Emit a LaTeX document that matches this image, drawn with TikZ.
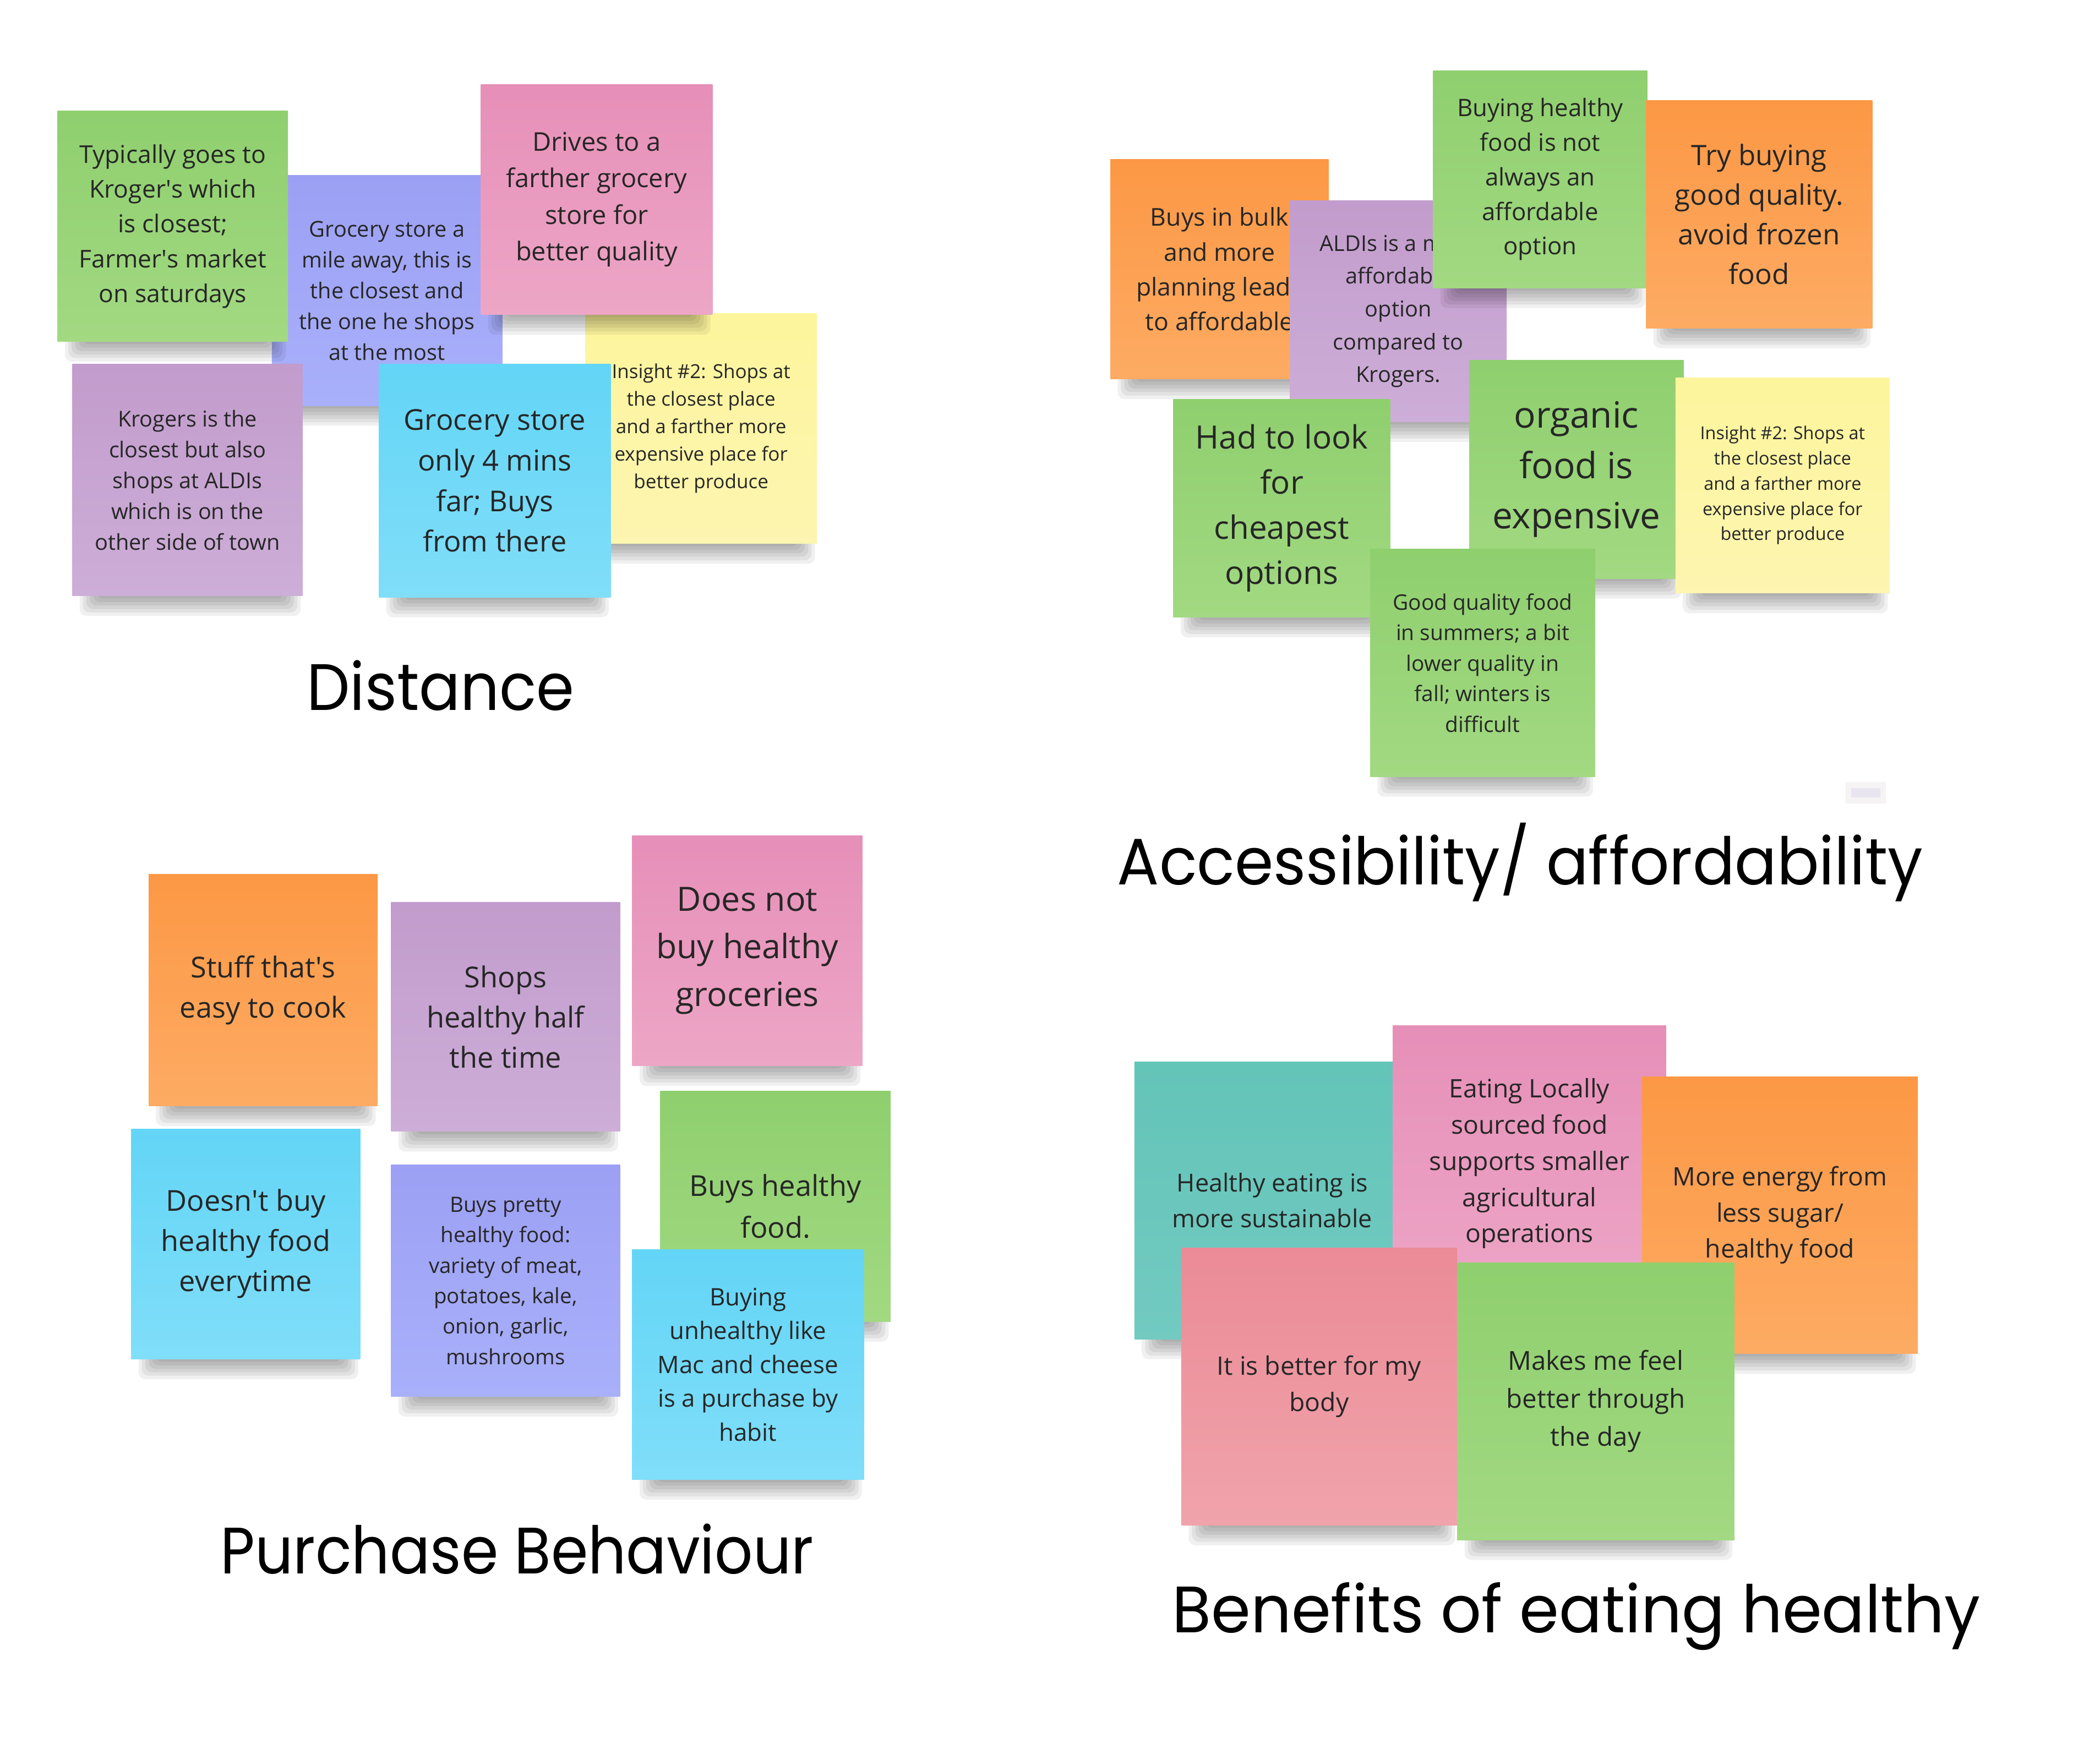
\documentclass[tikz,border=0pt]{standalone}
\usepackage{fontspec}
\usepackage{graphicx}
\setmainfont{Open Sans}
\newfontfamily\titlefont{Poppins}

\definecolor{grA}{HTML}{8FCF6E}\definecolor{grB}{HTML}{A2D982}
\definecolor{blA}{HTML}{9CA0F4}\definecolor{blB}{HTML}{A9B0FA}
\definecolor{pkA}{HTML}{E68FB8}\definecolor{pkB}{HTML}{EDA6C6}
\definecolor{puA}{HTML}{C29CCC}\definecolor{puB}{HTML}{CDAED8}
\definecolor{cyA}{HTML}{63D5F6}\definecolor{cyB}{HTML}{80DEF9}
\definecolor{yeA}{HTML}{FDF59C}\definecolor{yeB}{HTML}{FDF5B0}
\definecolor{orA}{HTML}{FC9845}\definecolor{orB}{HTML}{FDAB63}
\definecolor{tlA}{HTML}{63C4B8}\definecolor{tlB}{HTML}{72CAC1}
\definecolor{saA}{HTML}{EB8B97}\definecolor{saB}{HTML}{F0A3AB}
\definecolor{inktext}{HTML}{262626}
\definecolor{markout}{HTML}{F5F3F4}\definecolor{markin}{HTML}{E9E5F0}

\newcommand\fs[2]{\fontsize{#1}{#2}\selectfont}
\newcommand\ap{\textquotesingle}

\tikzset{
  note/.style={inner sep=0pt, outer sep=0pt, align=center, text=inktext},
  nGreen/.style={top color=grA, bottom color=grB},
  nBlue/.style={top color=blA, bottom color=blB},
  nPink/.style={top color=pkA, bottom color=pkB},
  nPurple/.style={top color=puA, bottom color=puB},
  nCyan/.style={top color=cyA, bottom color=cyB},
  nYellow/.style={top color=yeA, bottom color=yeB},
  nOrange/.style={top color=orA, bottom color=orB},
  nTeal/.style={top color=tlA, bottom color=tlB},
  nSalmon/.style={top color=saA, bottom color=saB},
  notesh/.style={fill=black, opacity=0.06, rounded corners=5pt},
  heading/.style={font=\titlefont\fs{49}{60}, inner sep=0pt, text=black},
}

% #1 name, #2 left, #3 top, #4 width, #5 height, #6 options, #7 text
\newcommand\sticky[7]{%
  \foreach \i in {0,...,5}{%
    \fill[notesh] ({#2+18-2.5*\i},{#3+#5-12}) rectangle ({#2+#4-14+2.5*\i},{#3+#5+2+2.6*\i});
  }%
  \node[note, minimum width=#4pt, minimum height=#5pt, #6] (#1) at ({#2+#4/2},{#3+#5/2}) {#7};%
}

\begin{document}
\begin{tikzpicture}[x=1pt,y=-1pt]
\useasboundingbox[fill=white] (0,0) rectangle (1568,1314);

% ---------------- Distance ----------------
\sticky{b1}{203}{131}{172}{172}{nBlue, font=\fs{16.3}{23}}{Grocery store a\\mile away, this is\\the closest and\\the one he shops\\at the most}
\sticky{y1}{437}{234}{173}{172}{nYellow, font=\fs{14.4}{20.5}}{Insight \#2: Shops at\\the closest place\\and a farther more\\expensive place for\\better produce}
\sticky{g1}{43}{83}{172}{172}{nGreen, font=\fs{18.3}{26}}{Typically goes to\\Kroger\ap s which\\is closest;\\Farmer\ap s market\\on saturdays}
\sticky{p1}{359}{63}{173}{172}{nPink, font=\fs{19.3}{27.3}}{Drives to a\\farther grocery\\store for\\better quality}
\sticky{pu1}{54}{272}{172}{173}{nPurple, font=\fs{16.3}{23}}{Krogers is the\\closest but also\\shops at ALDIs\\which is on the\\other side of town}
\sticky{c1}{283}{272}{173}{174}{nCyan, font=\fs{21.5}{30.3}}{Grocery store\\only 4 mins\\far; Buys\\from there}
\node[heading] (t1) at (329,512) {\scalebox{0.93}[1]{Distance}};

% ---------------- Accessibility ----------------
\sticky{o1}{829}{119}{163}{164}{nOrange, font=\fs{18.3}{26}}{Buys in bulk\\and more\\planning leads\\to affordable}
\sticky{pu2}{963}{150}{162}{165}{nPurple, font=\fs{16.3}{24.5}}{ALDIs is a more\\affordable\\option\\compared to\\Krogers.}
\sticky{g2}{1070}{53}{160}{162}{nGreen, font=\fs{18}{25.8}}{Buying healthy\\food is not\\always an\\affordable\\option}
\sticky{o2}{1229}{75}{169}{170}{nOrange, font=\fs{21}{29.7}}{Try buying\\good quality.\\avoid frozen\\food}
\sticky{g3}{876}{298}{162}{163}{nGreen, font=\fs{24}{33.7}}{Had to look\\for\\cheapest\\options}
\sticky{g4}{1097}{269}{160}{163}{nGreen, font=\fs{27}{37.5}}{organic\\food is\\expensive}
\sticky{g5}{1023}{410}{168}{170}{nGreen, font=\fs{16}{22.8}}{Good quality food\\in summers; a bit\\lower quality in\\fall; winters is\\difficult}
\sticky{y2}{1251}{282}{160}{161}{nYellow, font=\fs{13.3}{18.8}}{Insight \#2: Shops at\\the closest place\\and a farther more\\expensive place for\\better produce}
\node[heading] (t2) at (1135,644) {\scalebox{0.95}[1]{Accessibility/ affordability}};
\node[fill=markout, minimum width=30pt, minimum height=16pt, inner sep=0pt] (mk) at (1393,592) {};
\node[fill=markin, minimum width=22pt, minimum height=7pt, inner sep=0pt] (mki) at (mk.center) {};

% ---------------- Purchase Behaviour ----------------
\sticky{o3}{111}{653}{171}{173}{nOrange, font=\fs{21.5}{30}}{Stuff that\ap s\\easy to cook}
\sticky{pu3}{292}{674}{171}{171}{nPurple, font=\fs{21.5}{30}}{Shops\\healthy half\\the time}
\sticky{p3}{472}{624}{172}{172}{nPink, font=\fs{25}{35.5}}{Does not\\buy healthy\\groceries}
\sticky{c3}{98}{843}{171}{172}{nCyan, font=\fs{21.5}{30}}{Doesn\ap t buy\\healthy food\\everytime}
\sticky{b3}{292}{870}{171}{173}{nBlue, font=\fs{15.8}{22.8}}{Buys pretty\\healthy food:\\variety of meat,\\potatoes, kale,\\onion, garlic,\\mushrooms}
\sticky{g6}{493}{815}{172}{172}{nGreen, font=\fs{21.5}{31}}{Buys healthy\\food.}
\sticky{c4}{472}{933}{173}{172}{nCyan, font=\fs{18}{25.3}}{Buying\\unhealthy like\\Mac and cheese\\is a purchase by\\habit}
\node[heading] (t3) at (386,1157) {\scalebox{0.91}[1]{Purchase Behaviour}};

% ---------------- Benefits ----------------
\sticky{t1}{847}{793}{206}{207}{nTeal, font=\fs{18.5}{27}}{Healthy eating is\\more sustainable}
\sticky{p4}{1040}{766}{204}{206}{nPink, font=\fs{19}{27}}{Eating Locally\\sourced food\\supports smaller\\agricultural\\operations}
\sticky{o4}{1226}{804}{206}{207}{nOrange, font=\fs{19}{27}}{More energy from\\less sugar/\\healthy food}
\sticky{r1}{882}{932}{206}{207}{nSalmon, font=\fs{19}{27}}{It is better for my\\body}
\sticky{g7}{1088}{943}{207}{207}{nGreen, font=\fs{19.5}{28.5}}{Makes me feel\\better through\\the day}
\node[heading] (t4) at (1177,1207) {\scalebox{0.97}[1]{Benefits of eating healthy}};
\end{tikzpicture}
\end{document}
